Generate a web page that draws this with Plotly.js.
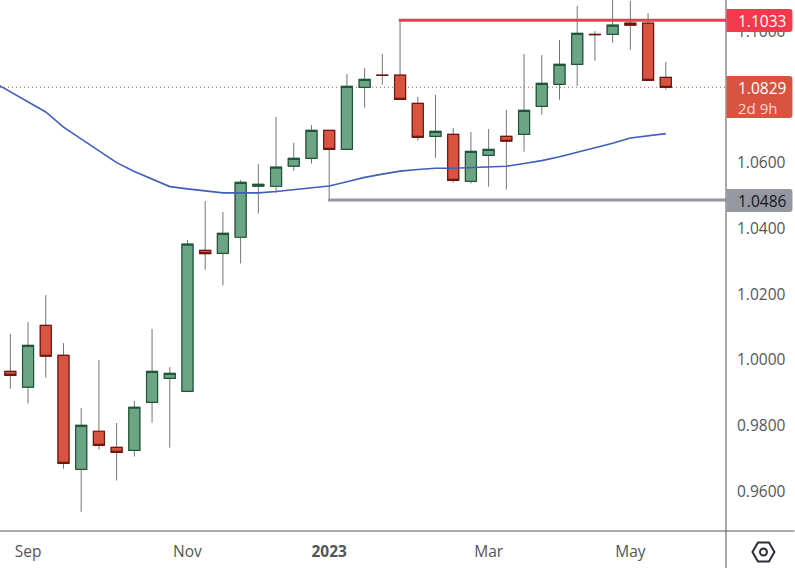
<!DOCTYPE html>
<html><head><meta charset="utf-8">
<script src="https://cdn.plot.ly/plotly-3.0.1.min.js"></script>
<style>html,body{margin:0;padding:0;background:#fff}#c{width:795px;height:568px}</style>
</head><body><div id="c"></div>
<script>
const dates=["2022-08-29","2022-09-05","2022-09-12","2022-09-19","2022-09-26","2022-10-03","2022-10-10","2022-10-17","2022-10-24","2022-10-31","2022-11-07","2022-11-14","2022-11-21","2022-11-28","2022-12-05","2022-12-12","2022-12-19","2022-12-26","2023-01-02","2023-01-09","2023-01-16","2023-01-23","2023-01-30","2023-02-06","2023-02-13","2023-02-20","2023-02-27","2023-03-06","2023-03-13","2023-03-20","2023-03-27","2023-04-03","2023-04-10","2023-04-17","2023-04-24","2023-05-01","2023-05-08","2023-05-15"];
const opens=[.9965,.9917,1.0105,1.0014,.9667,.9783,.9734,.9725,.9871,.9944,.9904,1.0333,1.0324,1.0373,1.0528,1.0528,1.0589,1.0613,1.0698,1.0640,1.0829,1.0866,1.0866,1.0780,1.0680,1.0686,1.0543,1.0622,1.0680,1.0686,1.0771,1.0838,1.0899,1.0990,1.0990,1.1024,1.1024,1.0859];
const highs=[1.0079,1.0115,1.0197,1.0051,.9854,1.0000,.9808,.9875,1.0094,.9978,1.0365,1.0483,1.0450,1.0547,1.0596,1.0739,1.0660,1.0714,1.0698,1.0869,1.0888,1.0930,1.1033,1.0800,1.0806,1.0705,1.0693,1.0702,1.0760,1.0930,1.0927,1.0973,1.1076,1.1000,1.1110,1.1092,1.1055,1.0906];
const lows=[.9912,.9867,.9946,.9669,.9538,.9727,.9633,.9706,.9809,.9733,.9904,1.0274,1.0226,1.0293,1.0445,1.0508,1.0575,1.0597,1.0486,1.0640,1.0767,1.0837,1.0792,1.0667,1.0615,1.0539,1.0536,1.0527,1.0518,1.0633,1.0746,1.0791,1.0833,1.0910,1.0965,1.0943,1.0850,1.0822];
const closes=[.9953,1.0044,1.0011,.9685,.9801,.9740,.9719,.9856,.9965,.9959,1.0352,1.0323,1.0385,1.0540,1.0534,1.0586,1.0613,1.0698,1.0640,1.0832,1.0853,1.0865,1.0792,1.0677,1.0695,1.0546,1.0634,1.0640,1.0665,1.0759,1.0841,1.0899,1.0993,1.0989,1.1018,1.1018,1.0850,1.0829];
const maDates=["2022-08-22"].concat(dates);
const maValues=[1.0846,1.0815,1.0783,1.0754,1.0708,1.0672,1.0635,1.0600,1.0573,1.0550,1.0527,1.0520,1.0514,1.0508,1.0508,1.0508,1.0512,1.0517,1.0523,1.0529,1.0542,1.0555,1.0565,1.0574,1.0579,1.0583,1.0583,1.0585,1.0588,1.0589,1.0597,1.0606,1.0618,1.0631,1.0644,1.0659,1.0675,1.0681,1.0688];
const yTicks=[0.96,0.98,1.00,1.02,1.04,1.06,1.10];
const yTickText=["0.9600","0.9800","1.0000","1.0200","1.0400","1.0600","1.1000"];
const xTicks=["2022-09-05","2022-11-07","2023-01-02","2023-03-06","2023-05-01"];
const xTickText=["Sep","Nov","<b>2023</b>","Mar","May"];
const resistance=1.1033, resistanceStart="2023-01-29 12:00";
const support=1.0486, supportStart="2023-01-01 12:00";
const lastPrice=1.0829;
const xRange=["2022-08-24 22:00","2023-06-07 19:00"];
const yRange=[0.94796,1.10945];

const W=726.5,H=531;
const FONT='"Open Sans", sans-serif';
const px=x=>x/W, py=y=>1-y/H;
const GREEN='#6ca584',GREEN_L='#1f5638',RED='#d95440',RED_L='#6e1610',WICK='#757575';
const bodyHigh=opens.map((o,i)=>Math.max(o,closes[i]));
const bodyLow=opens.map((o,i)=>Math.min(o,closes[i]));

const traces=[
 {type:'candlestick',x:dates,open:opens,high:highs,low:lows,close:closes,whiskerwidth:0,
  increasing:{line:{color:WICK,width:1},fillcolor:GREEN},decreasing:{line:{color:WICK,width:1},fillcolor:RED},hoverinfo:'skip',showlegend:false},
 {type:'candlestick',x:dates,open:opens,high:bodyHigh,low:bodyLow,close:closes,whiskerwidth:0,
  increasing:{line:{color:GREEN_L,width:1.2},fillcolor:GREEN},decreasing:{line:{color:RED_L,width:1.2},fillcolor:RED},hoverinfo:'skip',showlegend:false},
 {type:'scatter',mode:'lines',x:maDates,y:maValues,line:{color:'#3f5fb8',width:1.6},hoverinfo:'skip',showlegend:false}
];
function box(x0,x1,y0,y1,color){const r=3;
 const path=`M ${px(x0)} ${py(y0)} L ${px(x1-r)} ${py(y0)} Q ${px(x1)} ${py(y0)} ${px(x1)} ${py(y0+r)} L ${px(x1)} ${py(y1-r)} Q ${px(x1)} ${py(y1)} ${px(x1-r)} ${py(y1)} L ${px(x0)} ${py(y1)} Z`;
 return {type:'path',xref:'paper',yref:'paper',path,fillcolor:color,line:{width:0},layer:'above'};}
function label(text,y,color,size){return {xref:'paper',yref:'paper',x:px(737),y:py(y),xanchor:'left',yanchor:'middle',showarrow:false,text,font:{family:FONT,size:size||15.5,color}};}
const hex=[[753,552],[758.5,542.5],[769.5,542.5],[775,552],[769.5,561.5],[758.5,561.5]].map(p=>`${px(p[0])} ${py(p[1])}`);
const shapes=[
 {type:'line',xref:'x',yref:'y',x0:xRange[0],x1:xRange[1],y0:lastPrice,y1:lastPrice,line:{color:RED,width:1,dash:'1px,3px'},layer:'below'},
 {type:'line',xref:'x',yref:'y',x0:resistanceStart,x1:xRange[1],y0:resistance,y1:resistance,line:{color:'#f23a4d',width:3},layer:'above'},
 {type:'line',xref:'x',yref:'y',x0:supportStart,x1:xRange[1],y0:support,y1:support,line:{color:'#9598a1',width:3},layer:'above'},
 {type:'line',xref:'paper',yref:'paper',x0:px(726.5),x1:px(726.5),y0:py(0),y1:py(568),line:{color:'#555',width:1},layer:'above'},
 {type:'line',xref:'paper',yref:'paper',x0:px(0),x1:px(795),y0:py(531),y1:py(531),line:{color:'#555',width:1},layer:'above'},
 box(727,793,9,32,'#f23a4d'),
 box(727,793,76,118,RED),
 box(727,793,189,212,'#9598a1'),
 {type:'path',xref:'paper',yref:'paper',path:'M '+hex.join(' L ')+' Z',line:{color:'#2a2e39',width:2},fillcolor:'rgba(0,0,0,0)',layer:'above'},
 {type:'circle',xref:'paper',yref:'paper',x0:px(760.5),x1:px(767.5),y0:py(555.5),y1:py(548.5),line:{color:'#2a2e39',width:2},layer:'above'}
];
const annotations=[
 label('1.1033',21,'#ffffff'),
 label('1.0829',87.5,'#ffffff'),
 label('2d 9h',108,'#f8d6d0',15),
 label('1.0486',201,'#131722')
];
const layout={
 width:795,height:568,margin:{l:0,r:68.5,t:0,b:37,pad:0},
 paper_bgcolor:'#fff',plot_bgcolor:'#fff',showlegend:false,boxmode:'overlay',boxgap:0.2,boxgroupgap:0.22,
 font:{family:FONT,size:15,color:'#555'},
 xaxis:{type:'date',range:xRange,rangeslider:{visible:false},tickmode:'array',tickvals:xTicks,ticktext:xTickText,
  showgrid:false,zeroline:false,ticks:'',showline:false,tickfont:{family:FONT,size:15.5,color:'#555'},ticklabelstandoff:9,fixedrange:true},
 yaxis:{side:'right',range:yRange,tickmode:'array',tickvals:yTicks,ticktext:yTickText,showgrid:false,zeroline:false,ticks:'',showline:false,
  tickfont:{family:FONT,size:15.5,color:'#555'},ticklabelstandoff:10,fixedrange:true},
 shapes,annotations
};
Plotly.newPlot('c',traces,layout,{displayModeBar:false,staticPlot:true});
</script></body></html>
